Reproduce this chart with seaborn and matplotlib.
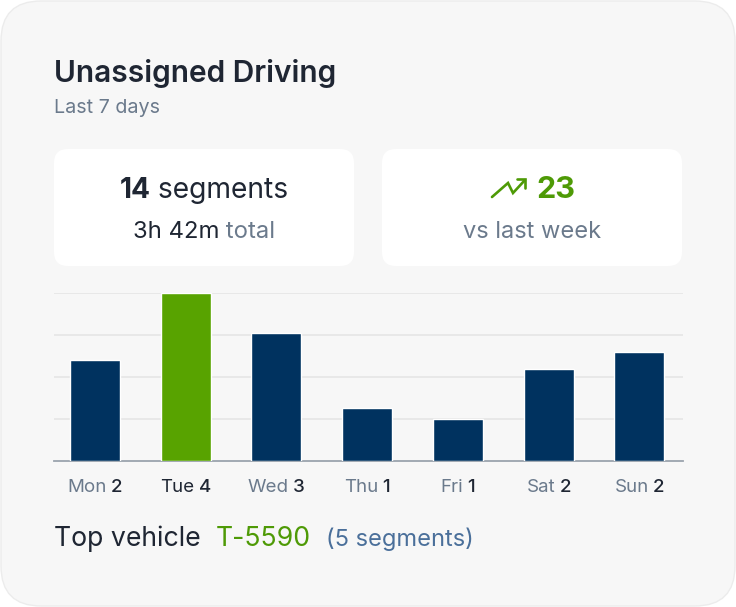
import matplotlib
matplotlib.use("Agg")
import matplotlib.pyplot as plt
import seaborn as sns
from matplotlib.patches import FancyBboxPatch
from matplotlib.lines import Line2D
from matplotlib.offsetbox import TextArea, HPacker, AnnotationBbox

# chart data
days = ["Mon", "Tue", "Wed", "Thu", "Fri", "Sat", "Sun"]
segments = [2, 4, 3, 1, 1, 2, 2]
minutes = [32.5, 54, 41, 17, 13.5, 29.5, 35]
highlight_day = "Tue"

title = "Unassigned Driving"
subtitle = "Last 7 days"
total_segments = 14
total_time = "3h 42m"
change_vs_last_week = 23
top_vehicle = "T-5590"
top_vehicle_segments = 5

# colours
NAVY = "#00325f"
GREEN_BAR = "#58a300"
GREEN_TXT = "#4e9a06"
DARK = "#1f2633"
GREY = "#6b7a8c"
BLUEGREY = "#4a6f9a"
CARD = "#f7f7f7"

sns.set_theme(style="white")
plt.rcParams["font.family"] = ["Inter", "DejaVu Sans"]

W, H = 736, 607
fig = plt.figure(figsize=(W / 100, H / 100), dpi=100)
fig.patch.set_facecolor("white")


def px(x, y):
    # top-left pixel coords -> inches from bottom-left
    return x / 100, (H - y) / 100


def rbox(x0, y0, x1, y1, r, fc, ec="none"):
    a, b = px(x0, y1)
    p = FancyBboxPatch((a, b), (x1 - x0) / 100, (y1 - y0) / 100,
                       boxstyle=f"round,pad=0,rounding_size={r / 100}",
                       transform=fig.dpi_scale_trans, fc=fc, ec=ec, lw=1,
                       zorder=-5)
    fig.patches.append(p)


rbox(1, 1, W - 1, H - 1, 40, CARD, "#ececec")
rbox(54, 149, 354, 266, 14, "white")
rbox(382, 149, 682, 266, 14, "white")


def rich(parts, x, y, ha=0.5, sep=0):
    areas = [TextArea(t, textprops=dict(color=c, fontsize=s, fontweight=w))
             for t, c, s, w in parts]
    box = HPacker(children=areas, align="baseline", pad=0, sep=sep)
    ab = AnnotationBbox(box, (x, H - y), xycoords="figure pixels",
                        box_alignment=(ha, 0.5), frameon=False, pad=0)
    fig.add_artist(ab)


rich([(title, DARK, 21.5, "semibold")], 54, 74, ha=0)
rich([(subtitle, GREY, 14.2, "normal")], 54, 108, ha=0)

rich([(str(total_segments), DARK, 20.3, "bold"),
      (" segments", DARK, 20.3, "normal")], 204, 191)
rich([(total_time, DARK, 17.2, "normal"), (" total", GREY, 17.2, "normal")],
     204, 232)

rich([(str(change_vs_last_week), GREEN_TXT, 22, "bold")], 555.5, 190)
rich([("vs last week", GREY, 17, "normal")], 532, 232)

# trending-up icon
ix, iy = [492, 508, 513, 525], [197, 183, 193, 180]
fig.add_artist(Line2D([px(a, b)[0] for a, b in zip(ix, iy)],
                      [px(a, b)[1] for a, b in zip(ix, iy)],
                      transform=fig.dpi_scale_trans, color=GREEN_TXT, lw=1.9,
                      solid_joinstyle="miter"))
hx, hy = [517, 525, 525], [179.5, 179.5, 187.5]
fig.add_artist(Line2D([px(a, b)[0] for a, b in zip(hx, hy)],
                      [px(a, b)[1] for a, b in zip(hx, hy)],
                      transform=fig.dpi_scale_trans, color=GREEN_TXT, lw=1.9,
                      solid_joinstyle="miter"))

rich([("Top vehicle", DARK, 19.2, "normal"),
      (top_vehicle, GREEN_TXT, 19.2, "normal"),
      (f"({top_vehicle_segments} segments)", BLUEGREY, 17, "normal")],
     54, 539, ha=0, sep=11)

# bar chart
ax = fig.add_axes([54 / W, (H - 461) / H, 629 / W, 168 / H])
ax.set_facecolor("none")
palette = {d: (GREEN_BAR if d == highlight_day else NAVY) for d in days}
sns.barplot(x=days, y=minutes, hue=days, palette=palette, legend=False,
            width=0.55, saturation=1, ax=ax, zorder=3)
top = max(minutes)
ax.set_ylim(0, top)
ax.set_xlim(-0.45, 6.48)
ax.set_yticks([top * k / 4 for k in range(1, 5)])
ax.set_yticklabels([])
ax.set_xticks([])
ax.tick_params(length=0)
ax.yaxis.grid(True, color="#e6e6e6", lw=1.2)
ax.set_axisbelow(True)
for s in ["top", "left", "right"]:
    ax.spines[s].set_visible(False)
ax.spines["bottom"].set_color("#9aa3ad")
ax.spines["bottom"].set_linewidth(1.3)
ax.set_xlabel("")
ax.set_ylabel("")

for i, (d, n) in enumerate(zip(days, segments)):
    hl = d == highlight_day
    areas = [TextArea(d, textprops=dict(color=DARK if hl else GREY,
                                        fontsize=13.5)),
             TextArea(str(n), textprops=dict(color=DARK, fontsize=13.5,
                                             fontweight="medium"))]
    box = HPacker(children=areas, align="baseline", pad=0, sep=3)
    ab = AnnotationBbox(box, (i, -0.155), xycoords=ax.get_xaxis_transform(),
                        box_alignment=(0.5, 0.5), frameon=False, pad=0)
    ax.add_artist(ab)

fig.savefig("out.png", dpi=100, facecolor=fig.get_facecolor())
